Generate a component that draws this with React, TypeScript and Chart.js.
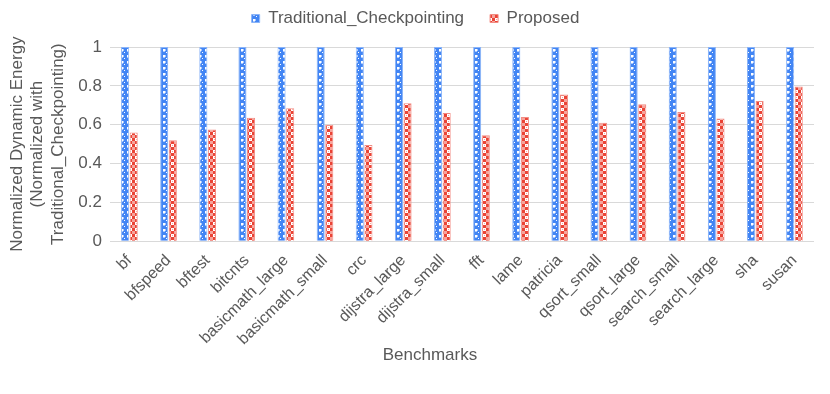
import React, { useEffect, useRef } from "react";
import { Chart, registerables } from "chart.js";

Chart.register(...registerables);

const categories = [
  "bf", "bfspeed", "bftest", "bitcnts", "basicmath_large", "basicmath_small",
  "crc", "dijstra_large", "dijstra_small", "fft", "lame", "patricia",
  "qsort_small", "qsort_large", "search_small", "search_large", "sha", "susan",
];
const traditional = [1, 1, 1, 1, 1, 1, 1, 1, 1, 1, 1, 1, 1, 1, 1, 1, 1, 1];
const proposed = [
  0.56, 0.52, 0.575, 0.635, 0.685, 0.6, 0.495, 0.71, 0.66, 0.545, 0.64, 0.755,
  0.61, 0.705, 0.665, 0.632, 0.722, 0.796,
];
const yTicks = [0, 0.2, 0.4, 0.6, 0.8, 1];
const yTitle = ["Normalized Dynamic Energy", "(Normalized with", "Traditional_Checkpointing)"];
const xTitle = "Benchmarks";

const FONT = "'Liberation Sans', Arial, sans-serif";
const TEXT = "#595959";

function makeBluePattern(ctx: CanvasRenderingContext2D) {
  const c = document.createElement("canvas");
  c.width = 6;
  c.height = 6;
  const g = c.getContext("2d")!;
  g.fillStyle = "#4285F4";
  g.fillRect(0, 0, 6, 6);
  g.fillStyle = "#ffffff";
  g.fillRect(1, 1, 2, 2);
  g.fillRect(4, 4, 1, 1);
  g.fillStyle = "#a9c7fa";
  g.fillRect(3, 1, 1, 2);
  g.fillRect(1, 3, 2, 1);
  return ctx.createPattern(c, "repeat")!;
}

function makeRedPattern(ctx: CanvasRenderingContext2D) {
  const c = document.createElement("canvas");
  c.width = 6;
  c.height = 6;
  const g = c.getContext("2d")!;
  g.fillStyle = "#EA4335";
  g.fillRect(0, 0, 6, 6);
  g.fillStyle = "#ffffff";
  g.fillRect(3, 0, 3, 3);
  g.fillStyle = "#f5a49c";
  g.fillRect(0, 3, 3, 3);
  g.fillRect(4, 1, 1, 1);
  return ctx.createPattern(c, "repeat")!;
}

const layoutTweaks = {
  id: "layoutTweaks",
  beforeInit(chart: any) {
    const legend = chart.legend;
    if (!legend) return;
    const fit = legend.fit;
    legend.fit = function () {
      fit.call(legend);
      legend.height += 10;
    };
  },
  afterLayout(chart: any) {
    const legend = chart.legend;
    if (legend) {
      legend.left += 7;
      legend.right += 7;
    }
  },
  afterDraw(chart: any) {
    const ctx = chart.ctx;
    ctx.save();
    ctx.fillStyle = TEXT;
    ctx.font = `17px ${FONT}`;
    ctx.textAlign = "center";
    ctx.textBaseline = "middle";
    ctx.fillText(xTitle, 430, 355);
    ctx.restore();
  },
};

export default function App() {
  const ref = useRef<HTMLCanvasElement | null>(null);
  useEffect(() => {
    const canvas = ref.current!;
    const ctx = canvas.getContext("2d")!;
    const blue = makeBluePattern(ctx);
    const red = makeRedPattern(ctx);
    const chart = new Chart(canvas, {
      type: "bar",
      data: {
        labels: categories,
        datasets: [
          {
            label: "Traditional_Checkpointing",
            data: traditional,
            backgroundColor: blue,
            borderColor: "#8ab4f8",
            borderWidth: 1,
            categoryPercentage: 0.44,
            barPercentage: 0.94,
          },
          {
            label: "Proposed",
            data: proposed,
            backgroundColor: red,
            borderColor: "#f28b82",
            borderWidth: 1,
            categoryPercentage: 0.44,
            barPercentage: 0.94,
          },
        ],
      },
      plugins: [layoutTweaks],
      options: {
        responsive: false,
        animation: false,
        layout: { padding: { left: 3, right: 16, top: -16, bottom: 35 } },
        plugins: {
          tooltip: { enabled: false },
          legend: {
            position: "top",
            labels: {
              color: TEXT,
              font: { family: FONT, size: 17 },
              boxWidth: 8,
              boxHeight: 8,
              padding: 26,
            },
          },
        },
        scales: {
          x: {
            grid: { display: false, drawTicks: false },
            border: { display: false },
            ticks: {
              color: TEXT,
              font: { family: FONT, size: 16 },
              maxRotation: 45,
              minRotation: 45,
              autoSkip: false,
              padding: 10,
            },
          },
          y: {
            min: 0,
            max: 1,
            afterBuildTicks: (axis: any) => {
              axis.ticks = yTicks.map((v) => ({ value: v }));
            },
            ticks: {
              color: TEXT,
              font: { family: FONT, size: 17 },
              padding: 8,
              callback: (v: any) => String(Number(v)),
            },
            grid: { color: "#d9d9d9", drawTicks: false, lineWidth: 1 },
            border: { display: false },
            title: {
              display: true,
              text: yTitle,
              color: TEXT,
              font: { family: FONT, size: 17, lineHeight: 1.2 },
              padding: { bottom: 2 },
            },
          },
        },
      },
    });
    return () => chart.destroy();
  }, []);
  return (
    <div style={{ position: "absolute", left: 0, top: 0, width: 830, height: 394, background: "#fff" }}>
      <canvas ref={ref} width={830} height={394} />
    </div>
  );
}
